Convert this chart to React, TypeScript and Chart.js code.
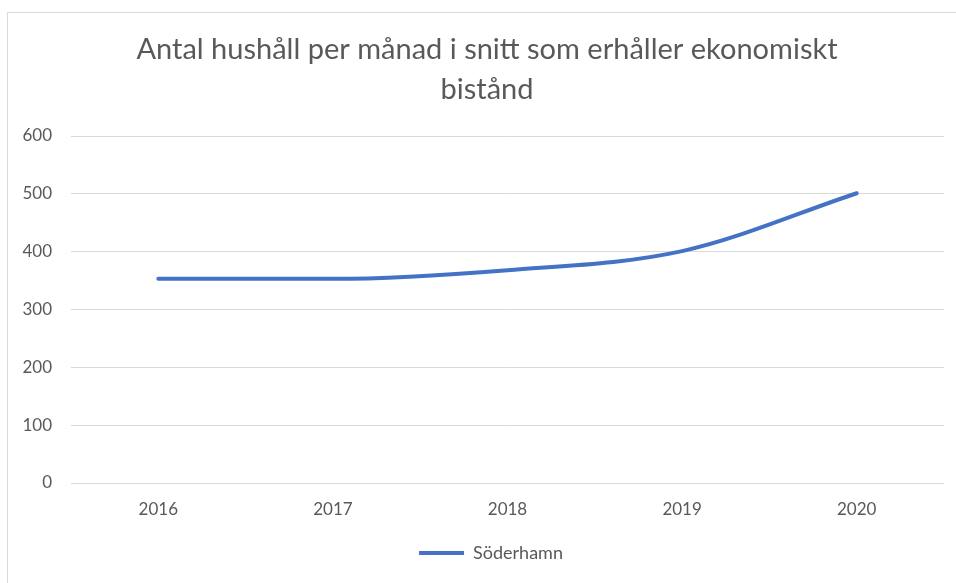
import React, { useEffect, useRef } from "react";
import { Chart, registerables } from "chart.js";

Chart.register(...registerables);

const titleLines = ["Antal hushåll per månad i snitt som erhåller ekonomiskt", "bistånd"];
const years = ["2016", "2017", "2018", "2019", "2020"];
const soderhamn = [353, 353, 368, 401, 501];
const seriesName = "Söderhamn";
const yMin = 0;
const yMax = 600;
const yStep = 100;

const FONT = "Lato, 'Open Sans', sans-serif";
const TEXT = "#595959";
const GRID = "#d9d9d9";
const LINE = "#4472c4";

const titlePlugin = {
  id: "excelTitle",
  afterLayout(chart: any) {
    if (chart.legend) {
      chart.legend.left += 15;
      chart.legend.right += 15;
    }
  },
  afterDraw(chart: any) {
    const ctx = chart.ctx;
    ctx.save();
    ctx.fillStyle = TEXT;
    ctx.font = `normal 29px ${FONT}`;
    ctx.textAlign = "center";
    ctx.textBaseline = "middle";
    const cx = 479;
    titleLines.forEach((line, i) => {
      ctx.fillText(line, cx, 37 + i * 40);
    });
    ctx.restore();
  },
};

export default function App() {
  const ref = useRef<HTMLCanvasElement | null>(null);
  useEffect(() => {
    if (!ref.current) return;
    const chart = new Chart(ref.current, {
      type: "line",
      data: {
        labels: years,
        datasets: [
          {
            label: seriesName,
            data: soderhamn,
            borderColor: LINE,
            backgroundColor: LINE,
            borderWidth: 4,
            borderCapStyle: "round",
            borderJoinStyle: "round",
            pointRadius: 0,
            pointHoverRadius: 0,
            cubicInterpolationMode: "monotone",
            fill: false,
          },
        ],
      },
      options: {
        animation: false,
        responsive: false,
        maintainAspectRatio: false,
        layout: { padding: { left: 0, right: 0, top: 123, bottom: 11 } },
        plugins: {
          title: { display: false },
          legend: {
            position: "bottom",
            labels: {
              color: TEXT,
              font: { family: FONT, size: 18 },
              usePointStyle: true,
              pointStyle: "line",
              pointStyleWidth: 45,
              padding: 10,
            },
          },
          tooltip: { enabled: false },
        },
        scales: {
          x: {
            offset: true,
            grid: { display: false, drawTicks: false },
            border: { display: false },
            ticks: { color: TEXT, font: { family: FONT, size: 17 }, padding: 16 },
            afterFit: (s: any) => {
              s.height = 51;
            },
          },
          y: {
            min: yMin,
            max: yMax,
            grid: { color: GRID, lineWidth: 1, drawTicks: false },
            border: { display: false },
            ticks: { stepSize: yStep, color: TEXT, font: { family: FONT, size: 17 }, padding: 19 },
            afterFit: (s: any) => {
              s.width = 63;
            },
          },
        },
      },
      plugins: [titlePlugin],
    });
    return () => chart.destroy();
  }, []);
  return (
    <div style={{ position: "absolute", left: 0, top: 0, width: 956, height: 583, overflow: "hidden", background: "#fff" }}>
      <div
        style={{
          position: "absolute",
          left: 7,
          top: 12,
          width: 958,
          height: 600,
          border: "1px solid #d9d9d9",
          boxSizing: "border-box",
        }}
      />
      <canvas ref={ref} width={936} height={570} style={{ position: "absolute", left: 8, top: 13, width: 936, height: 570 }} />
    </div>
  );
}
